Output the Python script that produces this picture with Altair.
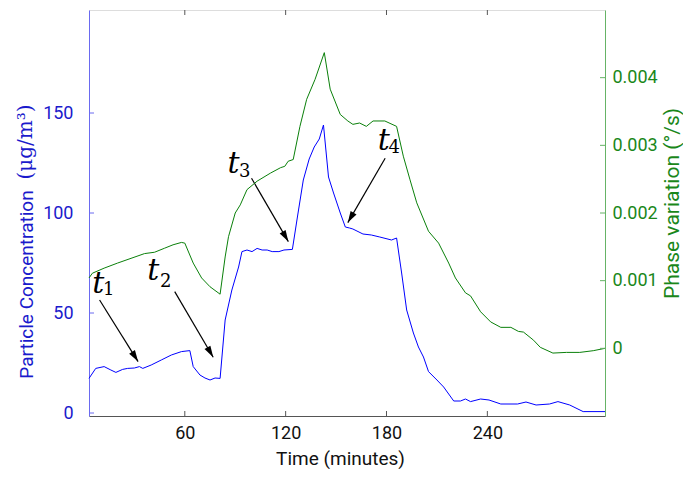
import math
import altair as alt
import pandas as pd

# ---------------- data ----------------
blue_time = [3, 7, 12, 16, 19, 23, 26, 30, 33, 35, 40, 46, 52, 58, 63, 65, 69, 72, 75, 78, 81,
             84, 88, 92, 94, 97, 100, 103, 106, 109, 112, 116, 119, 124, 127, 130.5, 134, 137,
             140, 142.5, 145.5, 148.5, 152.5, 155.5, 158, 160, 166, 171, 176, 183, 186, 189,
             192, 196, 199, 202, 205, 210, 214, 220, 224, 227, 230, 236, 241, 248, 258, 263,
             269, 277, 282, 289, 297, 310]
blue_conc = [17.3, 22.3, 23.2, 21.5, 20.3, 21.8, 22.3, 22.5, 23.2, 22.3, 24, 26.5, 29, 30.7,
             31.2, 23.2, 19, 17.5, 16.5, 17.5, 17.3, 46.5, 61.5, 73, 80.7, 81.5, 80.7, 82.3,
             81.5, 81.5, 80.7, 80.7, 81.5, 81.8, 98, 116.5, 127, 133, 137, 144, 118, 110, 100,
             93, 92.5, 92, 89.5, 89, 88, 86.5, 87.5, 70, 51.5, 40, 33, 28, 20.7, 16.5, 13, 6,
             6, 7, 5.7, 7, 6.5, 4.5, 4.5, 5.5, 4, 4.5, 5.7, 4, 0.7, 0.7]

green_time = [3, 5, 12, 20, 28, 36, 42, 48, 53, 58, 60, 65, 70, 75, 81, 84, 86, 90, 93, 97,
              103, 111, 117, 119.5, 121.5, 124.5, 128.5, 132.5, 137.5, 143, 146.5, 152.5, 157,
              160, 164, 168, 172, 179, 186, 190, 194, 198, 205, 211, 217, 221, 227, 230, 236,
              242, 248, 254, 258.5, 261.5, 267.5, 271.5, 279, 287, 295, 303, 310]
green_phase = [1.04e-3, 1.11e-3, 1.185e-3, 1.26e-3, 1.33e-3, 1.40e-3, 1.42e-3, 1.48e-3,
               1.53e-3, 1.565e-3, 1.555e-3, 1.26e-3, 1.04e-3, 0.91e-3, 0.80e-3, 1.35e-3,
               1.65e-3, 2.0e-3, 2.12e-3, 2.345e-3, 2.47e-3, 2.59e-3, 2.67e-3, 2.69e-3,
               2.765e-3, 2.79e-3, 3.28e-3, 3.68e-3, 3.975e-3, 4.37e-3, 3.83e-3, 3.456e-3,
               3.36e-3, 3.31e-3, 3.33e-3, 3.28e-3, 3.36e-3, 3.36e-3, 3.28e-3, 2.84e-3,
               2.49e-3, 2.15e-3, 1.73e-3, 1.555e-3, 1.26e-3, 1.04e-3, 0.82e-3, 0.775e-3,
               0.54e-3, 0.39e-3, 0.31e-3, 0.31e-3, 0.25e-3, 0.24e-3, 0.12e-3, 0.015e-3,
               -0.07e-3, -0.06e-3, -0.06e-3, -0.035e-3, 0.0]

x_ticks = [60, 120, 180, 240]
left_ticks = [0, 50, 100, 150]
right_ticks = [0, 0.001, 0.002, 0.003, 0.004]

unit_text = ["(μg/m³)"]

label_main = ["t", "t", "t", "t"]
label_sub = ["1", "2", "3", "4"]
label_time = [5.0, 37.7, 85.4, 174.8]
label_val = [60.0, 66.5, 120.0, 131.5]
sub_time = [11.3, 45.2, 92.3, 181.2]
sub_val = [59.0, 63.0, 118.2, 130.0]
arrow_t0 = [9.3, 54.0, 99.7, 179.2]
arrow_v0 = [56.5, 60.7, 117.4, 127.4]
arrow_t1 = [32.2, 76.9, 121.6, 157.0]
arrow_v1 = [25.7, 27.9, 85.7, 95.2]

# ---------------- layout / style ----------------
W, H = 516, 406
X_DOM = [3, 310]
YL_DOM = [-1.5, 201.5]
YR_DOM = [-0.001, 0.005]
BLUE = "#0000ff"
BLUE_TXT = "#1a1acc"
GREEN = "#0a800a"
GREEN_TXT = "#1a871a"
FONT = "Roboto"

px_x = W / (X_DOM[1] - X_DOM[0])
px_y = H / (YL_DOM[1] - YL_DOM[0])
angles = []
for a, b, c, d in zip(arrow_t0, arrow_v0, arrow_t1, arrow_v1):
    dx = (c - a) * px_x
    dy = -(d - b) * px_y
    angles.append(math.degrees(math.atan2(dx, -dy)) % 360)

blue_df = pd.DataFrame({"time": blue_time, "conc": blue_conc})
green_df = pd.DataFrame({"time": green_time, "phase": green_phase})
ann_df = pd.DataFrame({
    "main": label_main, "sub": label_sub,
    "lt": label_time, "lv": label_val, "st": sub_time, "sv": sub_val,
    "t0": arrow_t0, "v0": arrow_v0, "t1": arrow_t1, "v1": arrow_v1, "ang": angles,
})
unit_df = pd.DataFrame({"u": unit_text})
xt_df = pd.DataFrame({"xt": x_ticks})
lt_df = pd.DataFrame({"yt": left_ticks})
rt_df = pd.DataFrame({"yt": right_ticks})

xscale = alt.Scale(domain=X_DOM, nice=False, zero=False)
ylscale = alt.Scale(domain=YL_DOM, nice=False, zero=False)
yrscale = alt.Scale(domain=YR_DOM, nice=False, zero=False)

x_axis = alt.Axis(values=x_ticks, ticks=False, grid=False, domainColor="#555555",
                  labelFont=FONT, labelFontSize=18, labelColor="#111111", labelPadding=8,
                  labelFlush=False,
                  title="Time (minutes)", titleFont=FONT, titleFontSize=19,
                  titleFontWeight="normal", titleColor="#111111",
                  titleX=251, titleY=42, titleBaseline="middle", titleAlign="center")

yl_axis = alt.Axis(orient="left", values=left_ticks, ticks=False, grid=False,
                   domainColor="#6a6af0", labelFont=FONT, labelFontSize=18,
                   labelColor=BLUE_TXT, labelPadding=16,
                   title="Particle Concentration", titleFont=FONT, titleFontSize=19,
                   titleFontWeight="normal", titleColor=BLUE_TXT, titleAngle=270,
                   titleX=-63, titleY=274, titleBaseline="middle", titleAlign="center")

yr_axis = alt.Axis(orient="right", values=right_ticks, ticks=False, grid=False,
                   domainColor="#66b366", labelFont=FONT, labelFontSize=18,
                   labelColor=GREEN_TXT, labelPadding=7,
                   labelExpr="datum.value == 0 ? '0' : format(datum.value, '.3f')",
                   title="Phase variation (°/s)", titleFont=FONT, titleFontSize=21,
                   titleFontWeight="normal", titleColor=GREEN_TXT, titleAngle=270,
                   titleX=67.5, titleY=193, titleBaseline="middle", titleAlign="center")

# ---------------- left (blue) layer ----------------
blue_line = alt.Chart(blue_df).mark_line(color=BLUE, strokeWidth=1).encode(
    x=alt.X("time:Q", scale=xscale, axis=x_axis),
    y=alt.Y("conc:Q", scale=ylscale, axis=yl_axis),
)

arrows = alt.Chart(ann_df).mark_rule(color="black", strokeWidth=1.2).encode(
    x=alt.X("t0:Q", scale=xscale, axis=x_axis),
    y=alt.Y("v0:Q", scale=ylscale, axis=yl_axis),
    x2="t1:Q", y2="v1:Q",
)

heads = alt.Chart(ann_df).mark_point(
    shape="M0,0L-0.3,1L0.3,1Z", filled=True, color="black", opacity=1, size=520,
).encode(
    x=alt.X("t1:Q", scale=xscale, axis=x_axis),
    y=alt.Y("v1:Q", scale=ylscale, axis=yl_axis),
    angle=alt.Angle("ang:Q", scale=None),
)

t_main = alt.Chart(ann_df).mark_text(
    font="DejaVu Serif", fontStyle="italic", fontSize=30, align="left",
    baseline="alphabetic", color="black",
).encode(
    x=alt.X("lt:Q", scale=xscale, axis=x_axis),
    y=alt.Y("lv:Q", scale=ylscale, axis=yl_axis),
    text="main:N",
)

t_sub = alt.Chart(ann_df).mark_text(
    font="DejaVu Serif", fontSize=18, align="left", baseline="alphabetic", color="black",
).encode(
    x=alt.X("st:Q", scale=xscale, axis=x_axis),
    y=alt.Y("sv:Q", scale=ylscale, axis=yl_axis),
    text="sub:N",
)

unit_label = alt.Chart(unit_df).mark_text(
    font="DejaVu Serif", fontSize=20, angle=270, align="center", baseline="middle",
    color=BLUE_TXT,
).encode(x=alt.value(-63), y=alt.value(132), text="u:N")

x_bottom_ticks = alt.Chart(xt_df).mark_rule(color="#555555", strokeWidth=1).encode(
    x=alt.X("xt:Q", scale=xscale, axis=x_axis),
    y=alt.value(H), y2=alt.value(H - 5),
)
x_top_ticks = alt.Chart(xt_df).mark_rule(color="#555555", strokeWidth=1).encode(
    x=alt.X("xt:Q", scale=xscale, axis=x_axis),
    y=alt.value(0), y2=alt.value(5),
)
left_tick_marks = alt.Chart(lt_df).mark_rule(color="#6a6af0", strokeWidth=1).encode(
    y=alt.Y("yt:Q", scale=ylscale, axis=yl_axis),
    x=alt.value(0), x2=alt.value(5),
)

left_layer = alt.layer(blue_line, x_bottom_ticks, x_top_ticks, left_tick_marks,
                       arrows, heads, t_main, t_sub, unit_label)

# ---------------- right (green) layer ----------------
green_line = alt.Chart(green_df).mark_line(color=GREEN, strokeWidth=1).encode(
    x=alt.X("time:Q", scale=xscale, axis=x_axis),
    y=alt.Y("phase:Q", scale=yrscale, axis=yr_axis),
)
right_tick_marks = alt.Chart(rt_df).mark_rule(color="#66b366", strokeWidth=1).encode(
    y=alt.Y("yt:Q", scale=yrscale, axis=yr_axis),
    x=alt.value(W), x2=alt.value(W - 5),
)
right_layer = alt.layer(green_line, right_tick_marks)

chart = alt.layer(left_layer, right_layer).resolve_scale(y="independent").properties(
    width=W, height=H,
    autosize=alt.AutoSizeParams(type="none"),
    padding={"left": 81, "top": 2, "right": 78, "bottom": 53},
).configure_view(stroke="#222222", strokeWidth=1).configure(font=FONT)

chart.save("out.html", embed_options={"renderer": "svg", "actions": False})
